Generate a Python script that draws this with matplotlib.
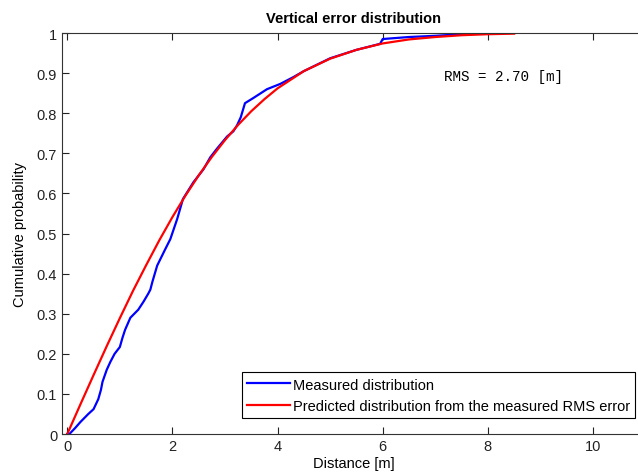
import numpy as np
import matplotlib
matplotlib.use("Agg")
import matplotlib.pyplot as plt

meas_x = [0.0, 0.04, 0.15, 0.25, 0.4, 0.5, 0.59, 0.64, 0.67, 0.75, 0.82, 0.9, 1.0, 1.05, 1.1,
          1.2, 1.35, 1.45, 1.54, 1.58, 1.62, 1.71, 1.86, 1.96, 2.09, 2.2, 2.4, 2.59, 2.72,
          2.85, 3.04, 3.16, 3.23, 3.3, 3.38, 3.54, 3.8, 4.05, 4.3, 4.5, 5.0, 5.5, 5.95,
          6.0, 6.5, 7.0, 7.5, 7.9]
meas_y = [0.0, 0.0, 0.015, 0.03, 0.05, 0.062, 0.087, 0.11, 0.13, 0.16, 0.18, 0.2, 0.217, 0.24,
          0.26, 0.29, 0.31, 0.33, 0.35, 0.36, 0.38, 0.42, 0.46, 0.486, 0.536, 0.586, 0.628,
          0.66, 0.69, 0.712, 0.742, 0.755, 0.77, 0.79, 0.825, 0.838, 0.86, 0.873, 0.89,
          0.905, 0.937, 0.958, 0.973, 0.985, 0.99, 0.993, 0.997, 1.0]

# predicted cdf from the RMS value
pred_x = [0.0, 0.25, 0.5, 0.75, 1.0, 1.25, 1.5, 1.75, 2.0, 2.25, 2.5, 2.75, 3.0, 3.25,
          3.5, 3.75, 4.0, 4.5, 5.0, 5.5, 6.0, 6.5, 7.0, 7.5, 8.0, 8.5]
pred_y = [0.0, 0.074, 0.147, 0.219, 0.289, 0.357, 0.421, 0.483, 0.541, 0.595, 0.645,
          0.691, 0.733, 0.771, 0.805, 0.835, 0.862, 0.905, 0.936, 0.958, 0.974, 0.984,
          0.990, 0.9945, 0.997, 0.9984]

rms_text = "RMS = 2.70 [m]"

plt.rcParams['font.family'] = ['Liberation Sans', 'DejaVu Sans']

fig = plt.figure(figsize=(6.38, 4.77), dpi=100)
ax = fig.add_axes([0.0972, 0.088, 0.9147, 0.8407])

ax.plot(meas_x, meas_y, color='#0000ff', lw=1.6, label='Measured distribution')
ax.plot(pred_x, pred_y, color='#ff0000', lw=1.6,
        label='Predicted distribution from the measured RMS error')

ax.set_xlim(-0.1, 11)
ax.set_ylim(0, 1)
ax.set_xticks([0, 2, 4, 6, 8, 10])
ax.set_yticks(np.arange(0, 1.01, 0.1))
ax.set_yticklabels(['0', '0.1', '0.2', '0.3', '0.4', '0.5', '0.6', '0.7', '0.8', '0.9', '1'])
ax.tick_params(direction='in', length=5, top=True, right=True, labelsize=10.5,
               colors='#222222', width=0.8)
for s in ax.spines.values():
    s.set_color('#333333')
    s.set_linewidth(0.8)

ax.set_title('Vertical error distribution', fontsize=10.5, fontweight='bold', pad=8)
ax.set_xlabel('Distance [m]', fontsize=10.5, labelpad=2)
ax.set_ylabel('Cumulative probability', fontsize=10.5, labelpad=7)

ax.text(7.17, 0.893, rms_text, family='Liberation Mono', fontsize=10.3, va='center')

leg = ax.legend(loc='lower right', bbox_to_anchor=(0.995, 0.1216),
                bbox_transform=fig.transFigure, borderaxespad=0, fancybox=False,
                framealpha=1, edgecolor='black', fontsize=10.5, handlelength=2.9,
                handletextpad=0.2, borderpad=0.35, labelspacing=0.5)
leg.get_frame().set_linewidth(0.8)

fig.savefig('out.png', dpi=100)
